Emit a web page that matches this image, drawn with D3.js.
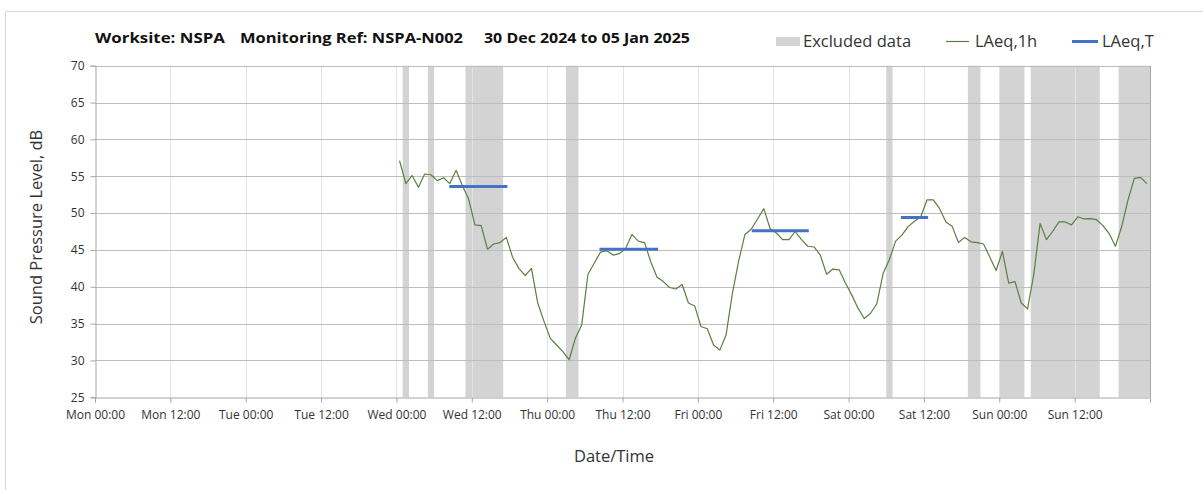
<!DOCTYPE html>
<html>
<head>
<meta charset="utf-8">
<script src="https://cdn.jsdelivr.net/npm/d3@7"></script>
<style>
  html, body { margin: 0; padding: 0; background: #ffffff; }
  svg { display: block; font-family: "Open Sans", "Lato", sans-serif; }
</style>
</head>
<body>
<svg id="chart" width="1203" height="490"></svg>
<script>
// ---------------- DATA ----------------
const titleParts = ["Worksite: NSPA", "Monitoring Ref: NSPA-N002", "30 Dec 2024 to 05 Jan 2025"];
const legendLabels = ["Excluded data", "LAeq,1h", "LAeq,T"];
const xTitle = "Date/Time";
const yTitle = "Sound Pressure Level, dB";

const xDomain = ["2024-12-30T00:00", "2025-01-06T00:00"];
const xTickLabels = ["Mon 00:00", "Mon 12:00", "Tue 00:00", "Tue 12:00", "Wed 00:00", "Wed 12:00",
  "Thu 00:00", "Thu 12:00", "Fri 00:00", "Fri 12:00", "Sat 00:00", "Sat 12:00", "Sun 00:00", "Sun 12:00", ""];
const yTicks = [25, 30, 35, 40, 45, 50, 55, 60, 65, 70];

// hourly LAeq,1h values, first one at Wed 00:30, then every hour
const seriesStart = "2025-01-01T00:30";
const laeq1h = [
  57.1, 54.0, 55.1, 53.5, 55.3, 55.2, 54.4, 54.8, 54.0, 55.8,
  53.7, 51.9, 48.4, 48.3, 45.1, 45.8, 46.0, 46.7, 44.0, 42.5,
  41.5, 42.5, 37.8, 35.3, 33.0, 32.1, 31.2, 30.1, 33.0, 34.8,
  41.7, 43.2, 44.7, 44.9, 44.3, 44.5, 45.2, 47.1, 46.2, 46.0,
  43.4, 41.3, 40.7, 39.9, 39.7, 40.3, 37.8, 37.4, 34.6, 34.3,
  32.1, 31.4, 33.5, 39.1, 43.5, 47.1, 47.8, 49.2, 50.6, 47.9,
  47.3, 46.4, 46.4, 47.5, 46.4, 45.5, 45.4, 44.3, 41.7, 42.4,
  42.3, 40.5, 38.9, 37.1, 35.7, 36.4, 37.7, 41.8, 43.7, 46.2,
  47.0, 48.2, 48.9, 49.5, 51.8, 51.8, 50.6, 48.8, 48.2, 46.0,
  46.7, 46.1, 46.0, 45.8, 44.0, 42.2, 44.8, 40.5, 40.7, 37.8,
  37.0, 41.7, 48.6, 46.4, 47.5, 48.8, 48.8, 48.4, 49.5, 49.2,
  49.25, 49.1, 48.3, 47.2, 45.5, 48.2, 51.8, 54.7, 54.85, 54.0
];

// LAeq,T periods
const laeqTStart = ["2025-01-01T08:25", "2025-01-02T08:20", "2025-01-03T08:35", "2025-01-04T08:20"];
const laeqTEnd   = ["2025-01-01T17:40", "2025-01-02T17:40", "2025-01-03T17:40", "2025-01-04T12:40"];
const laeqTValue = [53.6, 45.1, 47.6, 49.4];

// Excluded data periods
const exclStart = ["2025-01-01T01:00", "2025-01-01T05:00", "2025-01-01T11:00", "2025-01-02T03:00",
  "2025-01-04T06:00", "2025-01-04T19:00", "2025-01-05T00:00", "2025-01-05T05:00", "2025-01-05T19:00"];
const exclEnd = ["2025-01-01T02:00", "2025-01-01T06:00", "2025-01-01T17:00", "2025-01-02T05:00",
  "2025-01-04T07:00", "2025-01-04T21:00", "2025-01-05T04:00", "2025-01-05T16:00", "2025-01-06T00:00"];

// ---------------- DRAW ----------------
const parse = d3.timeParse("%Y-%m-%dT%H:%M");
const svg = d3.select("#chart");

const L = 95, R = 1150, T = 65.7, B = 397.3;
const x = d3.scaleTime().domain(xDomain.map(parse)).range([L, R]);
const y = d3.scaleLinear().domain([25, 70]).range([B, T]);

// outer frame
svg.append("path").attr("d", "M5.5,490 V11.5 H1203")
  .attr("fill", "none").attr("stroke", "#d9d9d9").attr("stroke-width", 1);

// title
const titleX = [95, 240, 484];
const titleW = [130, 223, 206];
titleParts.forEach((t, i) => {
  svg.append("text").attr("x", titleX[i]).attr("y", 43)
    .attr("font-size", 15).attr("font-weight", "bold").attr("fill", "#111")
    .attr("textLength", titleW[i]).attr("lengthAdjust", "spacingAndGlyphs")
    .text(t);
});

// excluded bands
const excl = exclStart.map((s, i) => ({ s: parse(s), e: parse(exclEnd[i]) }));
svg.append("g").selectAll("rect").data(excl).join("rect")
  .attr("x", d => x(d.s)).attr("width", d => x(d.e) - x(d.s))
  .attr("y", T).attr("height", B - T)
  .attr("fill", "#d3d3d3");

// x ticks
const xTickVals = d3.range(xTickLabels.length).map(i => d3.timeHour.offset(parse(xDomain[0]), i * 12));

// vertical gridlines
svg.append("g").selectAll("line").data(xTickVals.slice(1, -1)).join("line")
  .attr("x1", d => Math.round(x(d)) + 0.5).attr("x2", d => Math.round(x(d)) + 0.5)
  .attr("y1", T).attr("y2", B)
  .attr("stroke", "#e3e3e3").attr("stroke-width", 1);

// horizontal gridlines
svg.append("g").selectAll("line").data(yTicks.slice(1)).join("line")
  .attr("x1", L).attr("x2", R)
  .attr("y1", d => Math.round(y(d)) + 0.5).attr("y2", d => Math.round(y(d)) + 0.5)
  .attr("stroke", "#bdbdbd").attr("stroke-width", 1);

// right border
svg.append("line").attr("x1", Math.round(R) + 0.5).attr("x2", Math.round(R) + 0.5)
  .attr("y1", T).attr("y2", B).attr("stroke", "#a6a6a6");

// x axis
const xAxis = d3.axisBottom(x).tickValues(xTickVals)
  .tickFormat((d, i) => xTickLabels[i]).tickSizeOuter(0).tickSize(5).tickPadding(8);
const gx = svg.append("g").attr("transform", `translate(0,${Math.round(B) + 0.5})`).call(xAxis);
gx.select(".domain").attr("stroke", "#a6a6a6");
gx.selectAll(".tick line").attr("stroke", "#a6a6a6");
gx.selectAll(".tick text").attr("font-size", 12).attr("fill", "#333")
  .attr("font-family", "'Open Sans', sans-serif");

// y axis
const yAxis = d3.axisLeft(y).tickValues(yTicks).tickSizeOuter(0).tickSize(5).tickPadding(6);
const gy = svg.append("g").attr("transform", `translate(${L + 0.5},0)`).call(yAxis);
gy.select(".domain").attr("stroke", "#a6a6a6");
gy.selectAll(".tick line").attr("stroke", "#a6a6a6");
gy.selectAll(".tick text").attr("font-size", 12).attr("fill", "#333")
  .attr("font-family", "'Open Sans', sans-serif");

// LAeq,1h line
const pts = laeq1h.map((v, i) => ({ t: d3.timeHour.offset(parse(seriesStart), i), v }));
svg.append("path").datum(pts)
  .attr("d", d3.line().x(d => x(d.t)).y(d => y(d.v)))
  .attr("fill", "none").attr("stroke", "#5b7f3f").attr("stroke-width", 1.2)
  .attr("stroke-linejoin", "round");

// LAeq,T segments
const segs = laeqTValue.map((v, i) => ({ s: parse(laeqTStart[i]), e: parse(laeqTEnd[i]), v }));
svg.append("g").selectAll("line").data(segs).join("line")
  .attr("x1", d => x(d.s)).attr("x2", d => x(d.e))
  .attr("y1", d => y(d.v)).attr("y2", d => y(d.v))
  .attr("stroke", "#4472c4").attr("stroke-width", 3);

// legend
const lg = svg.append("g");
lg.append("rect").attr("x", 776).attr("y", 37).attr("width", 24).attr("height", 9).attr("fill", "#d3d3d3");
lg.append("text").attr("x", 803).attr("y", 47).attr("font-size", 16.5).attr("fill", "#333").text(legendLabels[0]);
lg.append("line").attr("x1", 946).attr("x2", 969).attr("y1", 41.5).attr("y2", 41.5)
  .attr("stroke", "#5b7f3f").attr("stroke-width", 1.2);
lg.append("text").attr("x", 975).attr("y", 47).attr("font-size", 16.5).attr("fill", "#333").text(legendLabels[1]);
lg.append("line").attr("x1", 1072).attr("x2", 1098).attr("y1", 41.5).attr("y2", 41.5)
  .attr("stroke", "#4472c4").attr("stroke-width", 3);
lg.append("text").attr("x", 1102).attr("y", 47).attr("font-size", 16.5).attr("fill", "#333").text(legendLabels[2]);

// axis titles
svg.append("text").attr("x", 614).attr("y", 462).attr("text-anchor", "middle")
  .attr("font-size", 16.5).attr("fill", "#333").text(xTitle);
svg.append("text").attr("transform", "translate(42,227) rotate(-90)").attr("text-anchor", "middle")
  .attr("font-size", 16.5).attr("fill", "#333").text(yTitle);
</script>
</body>
</html>
